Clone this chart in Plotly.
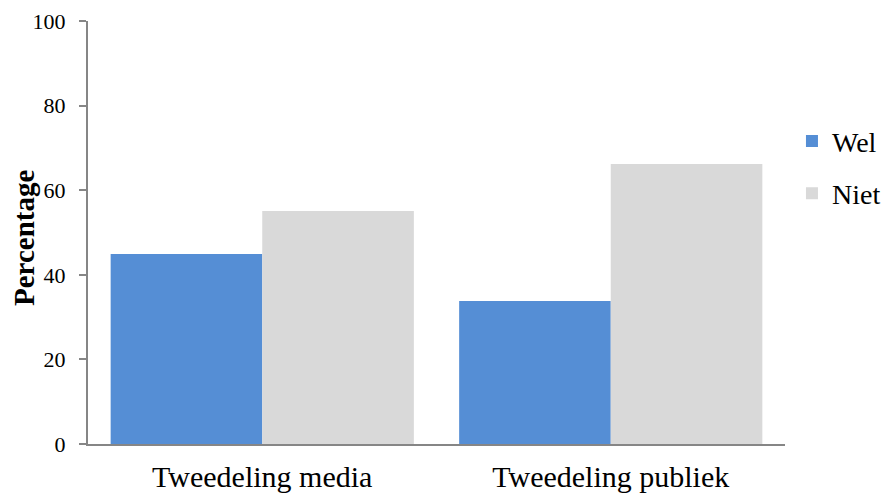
import plotly.graph_objects as go

categories = ["Tweedeling media", "Tweedeling publiek"]
wel = [44.9, 33.8]
niet = [55.1, 66.2]
y_ticks = [0, 20, 40, 60, 80, 100]

FONT = "Liberation Serif, DejaVu Serif, serif"

fig = go.Figure()
fig.add_trace(go.Bar(name="Wel", x=categories, y=wel, marker=dict(color="#558ED5", line=dict(width=0)),
                     legendgroup="a"))
fig.add_trace(go.Bar(name="Niet", x=categories, y=niet, marker=dict(color="#D9D9D9", line=dict(width=0)),
                     legendgroup="b"))

fig.update_layout(
    width=883, height=491,
    margin=dict(l=80, r=106, t=13, b=55, autoexpand=False),
    paper_bgcolor="white", plot_bgcolor="white",
    barmode="group", bargap=0.13, bargroupgap=0,
    font=dict(family=FONT, color="black"),
    showlegend=True,
    legend=dict(x=1.01, y=0.775, xanchor="left", yanchor="top",
                font=dict(size=28, family=FONT, color="black"), tracegroupgap=13,
                itemwidth=30, traceorder="grouped"),
    xaxis=dict(showline=True, linecolor="#868686", linewidth=2, automargin=False,
               ticks="", tickfont=dict(size=30, family=FONT), showgrid=False,
               ticklabelstandoff=5),
    yaxis=dict(range=[0, 100], tickvals=y_ticks, showline=True, linecolor="#868686", linewidth=2,
               automargin=False,
               ticks="outside", ticklen=7, tickcolor="#868686", tickwidth=1.5,
               tickfont=dict(size=22, family=FONT), showgrid=False, zeroline=False,
               ticklabelstandoff=9),
    annotations=[dict(text="<b>Percentage</b>", xref="paper", yref="paper", x=-0.0918, y=0.487,
                      xanchor="center", yanchor="middle", textangle=-90, showarrow=False,
                      font=dict(size=29, family=FONT, color="black"))],
)

fig.write_html("out.html")
